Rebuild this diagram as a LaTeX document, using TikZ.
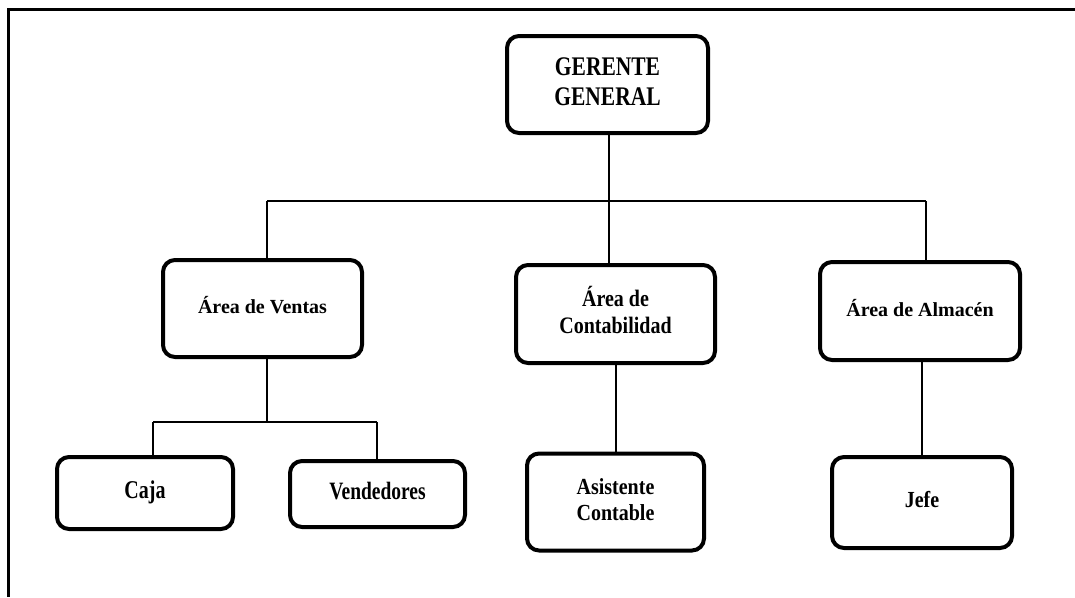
\documentclass[tikz,border=0pt]{standalone}
\usepackage{fontspec}
\usepackage{graphicx}
\setmainfont{Liberation Serif}
\usetikzlibrary{calc}

% text block, optionally stretched vertically
\newcommand{\vtext}[2]{\scalebox{1}[#1]{\begin{tabular}{@{}c@{}}#2\end{tabular}}}

\tikzset{
  orgbox/.style={draw=black, line width=4pt, rounded corners=12pt, fill=white,
    inner sep=0pt, align=center, font=\bfseries\fontsize{20}{23}\selectfont},
  link/.style={draw=black, line width=2pt},
  frameline/.style={draw=black, line width=3pt}
}

\begin{document}
\begin{tikzpicture}[x=1pt, y=-1pt]
  \useasboundingbox (0,0) rectangle (1075,597);

  % page frame (open to the right and bottom)
  \coordinate (fTL) at (8,9);
  \coordinate (fTR) at (1075,9);
  \coordinate (fBL) at (8,597);
  \draw[frameline] (fTR) -- (fTL) -- (fBL);

  % boxes
  \node[orgbox, minimum width=201pt, minimum height=97pt] (gg) at (607.5,84.5)
    {\fontsize{21.5}{24}\selectfont\vtext{1.25}{GERENTE\\GENERAL}};

  \node[orgbox, minimum width=199pt, minimum height=97pt] (ventas) at (262.5,308.5)
    {\vtext{1.0}{Área de Ventas}};
  \node[orgbox, minimum width=199pt, minimum height=98pt] (conta) at (615.5,314)
    {\vtext{1.18}{Área de\\Contabilidad}};
  \node[orgbox, minimum width=200pt, minimum height=98pt] (almacen) at (920,311)
    {\vtext{1.0}{Área de Almacén}};

  \node[orgbox, minimum width=176pt, minimum height=72pt] (caja) at (145,493)
    {\vtext{1.28}{Caja}};
  \node[orgbox, minimum width=175pt, minimum height=66pt] (vend) at (377.5,494)
    {\fontsize{19.5}{23}\selectfont\vtext{1.28}{Vendedores}};
  \node[orgbox, minimum width=177pt, minimum height=97pt] (asis) at (615.5,502)
    {\vtext{1.15}{Asistente\\Contable}};
  \node[orgbox, minimum width=180pt, minimum height=91pt] (jefe) at (922,502.5)
    {\vtext{1.15}{Jefe}};

  % main bus
  \coordinate (busL) at (267,201);
  \coordinate (busR) at (926,201);
  \coordinate (busM) at (609,201);
  \draw[link] (busL) -- (busR);
  \draw[link] (gg.south -| busM) -- (busM);
  \draw[link] (busL) -- (busL |- ventas.north);
  \draw[link] (busM) -- (busM |- conta.north);
  \draw[link] (busR) -- (busR |- almacen.north);

  % sales sub-bus
  \coordinate (subM) at (267,422);
  \coordinate (subL) at (153,422);
  \coordinate (subR) at (377,422);
  \draw[link] (subM |- ventas.south) -- (subM);
  \draw[link] (subL) -- (subR);
  \draw[link] (subL) -- (subL |- caja.north);
  \draw[link] (subR) -- (subR |- vend.north);

  % single children
  \draw[link] (conta.south) -- (asis.north);
  \draw[link] (jefe.north |- almacen.south) -- (jefe.north);
\end{tikzpicture}
\end{document}
